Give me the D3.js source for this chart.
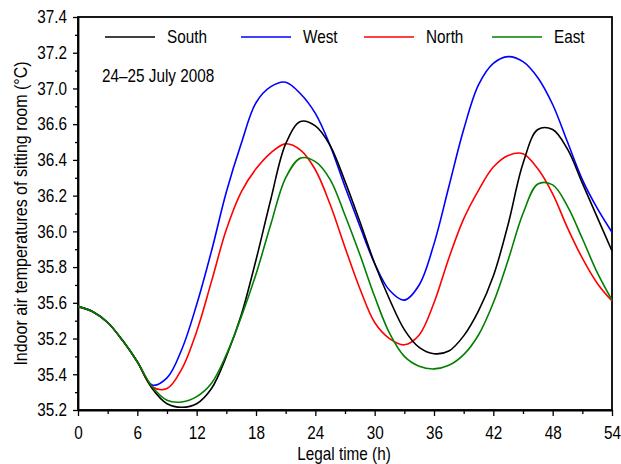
<!DOCTYPE html>
<html>
<head>
<meta charset="utf-8">
<script src="https://cdn.jsdelivr.net/npm/d3@7"></script>
<style>
  html, body { margin: 0; padding: 0; background: #fff; }
  svg { display: block; font-family: "Liberation Sans", Arial, sans-serif; }
</style>
</head>
<body>
<div id="chart"></div>
<script>
// hours (legal time) sampled every 1.5 h
const hours = d3.range(0, 54.01, 1.5);

// nominal axis values
const south = [35.78, 35.75, 35.69, 35.59, 35.47, 35.32, 35.235, 35.215, 35.235, 35.32, 35.50, 35.73, 36.04, 36.38, 36.69, 36.815, 36.79, 36.68, 36.48, 36.255, 36.02, 35.82, 35.65, 35.55, 35.515, 35.53, 35.615, 35.755, 35.95, 36.24, 36.58, 36.77, 36.77, 36.66, 36.47, 36.28, 36.09];
const west  = [35.78, 35.75, 35.69, 35.59, 35.47, 35.34, 35.38, 35.54, 35.79, 36.09, 36.42, 36.69, 36.92, 37.01, 37.035, 36.97, 36.86, 36.68, 36.45, 36.23, 36.02, 35.87, 35.815, 35.90, 36.13, 36.45, 36.77, 37.02, 37.14, 37.178, 37.15, 37.06, 36.91, 36.70, 36.49, 36.33, 36.195];
const north = [35.78, 35.75, 35.69, 35.59, 35.47, 35.33, 35.32, 35.43, 35.64, 35.92, 36.21, 36.42, 36.55, 36.64, 36.69, 36.655, 36.545, 36.35, 36.11, 35.88, 35.69, 35.60, 35.565, 35.62, 35.80, 36.05, 36.27, 36.43, 36.56, 36.625, 36.635, 36.55, 36.41, 36.22, 36.05, 35.91, 35.81];
const east  = [35.78, 35.75, 35.69, 35.59, 35.47, 35.33, 35.255, 35.245, 35.275, 35.35, 35.51, 35.72, 35.96, 36.24, 36.50, 36.61, 36.59, 36.49, 36.29, 36.07, 35.835, 35.63, 35.50, 35.445, 35.43, 35.45, 35.51, 35.62, 35.80, 36.04, 36.30, 36.465, 36.46, 36.34, 36.16, 35.97, 35.815];

const seriesNames = ["South", "West", "North", "East"];
const seriesColors = ["#000000", "#0000ff", "#ff0000", "#008000"];
const seriesValues = [south, west, north, east];
const drawOrder = ["West", "North", "South", "East"];

const xTicks = d3.range(0, 55, 6);
const xMinorTicks = d3.range(3, 54, 6);
// evenly spaced ticks, labels as printed on the original axis
const yTicks = d3.range(12).map(i => +(35.2 + i * 0.2).toFixed(1));
const yMinorTicks = d3.range(11).map(i => +(35.3 + i * 0.2).toFixed(1));
const yTickLabels = ["35.2", "35.4", "35.2", "35.6", "35.8", "36.0", "36.2", "36.4", "36.6", "37.0", "37.2", "37.4"];

const width = 621, height = 464;
const margin = {top: 17, right: 9, bottom: 54, left: 78};
const narrow = 0.85; // the original uses a condensed face

const x = d3.scaleLinear().domain([0, 54]).range([margin.left, width - margin.right]);
const y = d3.scaleLinear().domain([35.2, 37.4]).range([height - margin.bottom, margin.top]);

const svg = d3.select("#chart").append("svg")
  .attr("width", width)
  .attr("height", height);

// squeeze text horizontally around its anchor point
function squeeze(sel, s = narrow) {
  sel.each(function() {
    const t = d3.select(this);
    const tx = +t.attr("x") || 0, ty = +t.attr("y") || 0;
    const prev = t.attr("transform") || "";
    t.attr("x", 0).attr("y", 0)
      .attr("transform", `${prev} translate(${tx},${ty}) scale(${s},1)`);
  });
}

// frame
svg.append("rect")
  .attr("x", x(0)).attr("y", y(37.4))
  .attr("width", x(54) - x(0)).attr("height", y(35.2) - y(37.4))
  .attr("fill", "none").attr("stroke", "#000").attr("stroke-width", 1.8);

// axes
svg.append("g")
  .attr("transform", `translate(0,${y(35.2)})`)
  .call(d3.axisBottom(x).tickValues(xTicks).tickSize(6).tickPadding(10).tickSizeOuter(0))
  .attr("font-family", null).attr("font-size", 18);
svg.append("g")
  .attr("transform", `translate(0,${y(35.2)})`)
  .call(d3.axisBottom(x).tickValues(xMinorTicks).tickSize(4).tickFormat("").tickSizeOuter(0))
  .select(".domain").remove();

svg.append("g")
  .attr("transform", `translate(${x(0)},0)`)
  .call(d3.axisLeft(y).tickValues(yTicks).tickSize(5).tickPadding(6).tickSizeOuter(0)
    .tickFormat((d, i) => yTickLabels[i]))
  .attr("font-family", null).attr("font-size", 18);
svg.append("g")
  .attr("transform", `translate(${x(0)},0)`)
  .call(d3.axisLeft(y).tickValues(yMinorTicks).tickSize(3).tickFormat("").tickSizeOuter(0))
  .select(".domain").remove();

svg.selectAll(".domain").attr("stroke-width", 1.8);
svg.selectAll(".tick line").attr("stroke-width", 1.3);
svg.selectAll(".tick text").attr("fill", "#000").call(squeeze);

// lines
const line = d3.line()
  .x((d, i) => x(hours[i]))
  .y(d => y(d))
  .curve(d3.curveCatmullRom.alpha(0.5));

drawOrder.forEach(name => {
  const k = seriesNames.indexOf(name);
  svg.append("path")
    .datum(seriesValues[k])
    .attr("fill", "none")
    .attr("stroke", seriesColors[k])
    .attr("stroke-width", 1.6)
    .attr("d", line);
});

// legend
const legendX = [105, 241, 364, 492];
const legend = svg.append("g").attr("font-size", 18);
seriesNames.forEach((name, k) => {
  legend.append("line")
    .attr("x1", legendX[k]).attr("x2", legendX[k] + 50)
    .attr("y1", 37).attr("y2", 37)
    .attr("stroke", seriesColors[k]).attr("stroke-width", 1.6);
  legend.append("text")
    .attr("x", legendX[k] + 62).attr("y", 37).attr("dy", "0.35em")
    .text(name)
    .call(squeeze);
});

svg.append("text")
  .attr("x", 102).attr("y", 76).attr("dy", "0.35em")
  .attr("font-size", 18)
  .text("24–25 July 2008")
  .call(squeeze);

// axis titles
svg.append("text")
  .attr("x", 344).attr("y", 460)
  .attr("text-anchor", "middle").attr("font-size", 18)
  .text("Legal time (h)")
  .call(squeeze);

svg.append("text")
  .attr("transform", `translate(27,${(y(35.2) + y(37.4)) / 2}) rotate(-90) scale(0.89,1)`)
  .attr("text-anchor", "middle").attr("font-size", 18)
  .text("Indoor air temperatures of sitting room (°C)");
</script>
</body>
</html>
